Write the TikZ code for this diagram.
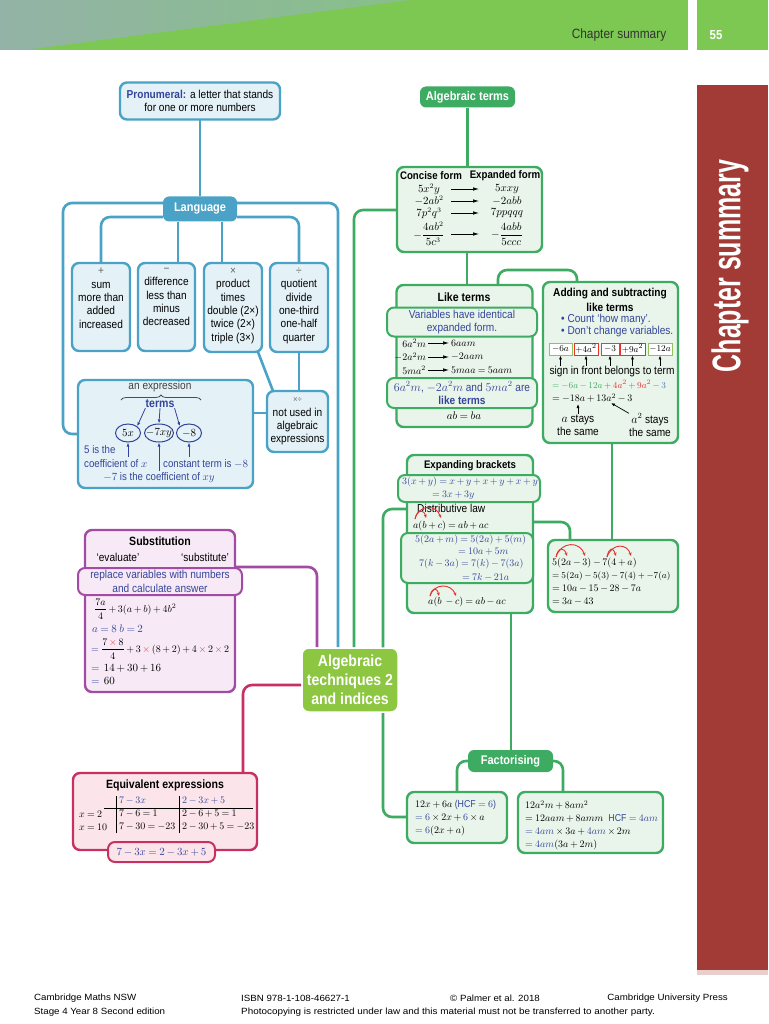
\documentclass[tikz,border=0pt]{standalone}
\usepackage{amsmath}
\usepackage{fontspec}
\setmainfont{Liberation Sans}[FakeStretch=0.88]
\newfontfamily\footfont{Liberation Sans}
\usepackage{graphicx}
\usetikzlibrary{arrows.meta,backgrounds,decorations.pathreplacing,shapes.geometric}

\definecolor{hdgreen}{HTML}{7DC853}
\definecolor{photoa}{HTML}{93B3A6}
\definecolor{photob}{HTML}{88BF8A}
\definecolor{sidered}{HTML}{A23B35}
\definecolor{lblue}{HTML}{4AA2C6}
\definecolor{lfill}{HTML}{E4F2F8}
\definecolor{tblue}{HTML}{34449A}
\definecolor{tgreen}{HTML}{3DAC62}
\definecolor{tfill}{HTML}{E9F5EA}
\definecolor{cgreen}{HTML}{8DC641}
\definecolor{spurple}{HTML}{A24BA2}
\definecolor{sfill}{HTML}{F7EAF6}
\definecolor{ecrimson}{HTML}{C93062}
\definecolor{efill}{HTML}{FBE5EB}
\definecolor{redarc}{HTML}{E5322D}
\definecolor{tgl}{HTML}{8CC45A}
\definecolor{tbl}{HTML}{4A73C3}

\newcommand{\redx}{\mathbin{\textcolor{redarc}{\times}}}

\begin{document}
\medmuskip=3mu
\thickmuskip=4mu
\begin{tikzpicture}[x=1pt,y=-1pt,font=\fontsize{11.5}{13.3}\selectfont,
  box/.style={rounded corners=7pt,line width=2.4pt,inner sep=0pt,outer sep=0pt,align=center},
  bbox/.style={box,draw=lblue,fill=lfill},
  gbox/.style={box,draw=tgreen,fill=tfill},
  pbox/.style={box,draw=spurple,fill=sfill},
  cbox/.style={box,draw=ecrimson,fill=efill},
  tag/.style={rounded corners=6pt,inner sep=0pt,text=white,font=\fontsize{12.5}{14}\selectfont\bfseries},
  bline/.style={draw=lblue,line width=2.6pt,rounded corners=9pt},
  gline/.style={draw=tgreen,line width=2.6pt,rounded corners=9pt},
  pline/.style={draw=spurple,line width=2.6pt,rounded corners=9pt},
  cline/.style={draw=ecrimson,line width=2.6pt,rounded corners=9pt},
  txt/.style={inner sep=0pt,align=center},
  mth/.style={txt,font=\fontsize{10}{12}\selectfont},
  btxt/.style={txt,text=tblue},
  ttl/.style={txt,font=\fontsize{12}{14}\selectfont\bfseries},
  arc/.style={draw=redarc,line width=0.9pt,-{Stealth[length=3.5pt,width=3pt]}},
  lin/.style={line width=0.7pt,-{Latex[length=6pt,width=3.5pt]}},
  barrow/.style={draw=tblue,line width=0.8pt,-{Latex[length=4pt,width=3pt]}},
  tbox/.style={draw=#1,line width=0.9pt,fill=white,inner sep=1pt,minimum height=12pt,font=\fontsize{9.5}{11}\selectfont}
]
\useasboundingbox (0,0) rectangle (768,1024);

% page frame
\fill[hdgreen] (0,0) rectangle (688,50);
\shade[left color=photoa,right color=photob] (0,0) -- (410,0) -- (25,50) -- (0,50) -- cycle;
\fill[hdgreen] (697,0) rectangle (768,50);
\node[txt,text=black!80,font=\fontsize{13.5}{15}\selectfont] (hdtitle) at (619,35) {Chapter summary};
\node[txt,text=white,font=\fontsize{13}{15}\selectfont\bfseries] (hdpage) at (716,35) {55};
\fill[sidered] (697,85) rectangle (768,970);
\fill[sidered!25] (697,970) rectangle (768,975);
\node[txt,text=white,rotate=90,font=\fontsize{40}{40}\selectfont\bfseries] (sidetitle) at (730,266) {\scalebox{0.71}[1]{Chapter summary}};

\begin{scope}[font=\footfont\fontsize{9}{11}\selectfont]
\node[txt,anchor=west] (ft1) at (34,998) {\scalebox{1.08}[1]{Cambridge Maths NSW}};
\node[txt,anchor=west] (ft2) at (34,1012) {\scalebox{1.08}[1]{Stage 4 Year 8 Second edition}};
\node[txt,anchor=west] (ft3) at (241,998) {\scalebox{1.08}[1]{ISBN 978-1-108-46627-1}};
\node[txt,anchor=west] (ft4) at (450,998) {\scalebox{1.08}[1]{© Palmer et al. 2018}};
\node[txt,anchor=east] (ft5) at (728,998) {\scalebox{1.08}[1]{Cambridge University Press}};
\node[txt,anchor=west] (ft6) at (241,1012) {\scalebox{1.1}[1]{Photocopying is restricted under law and this material must not be transferred to another party.}};
\end{scope}

% language
\node[bbox,minimum width=160pt,minimum height=37pt] (pron) at (200,101)
  {\textcolor{tblue}{\bfseries Pronumeral:} a letter that stands\\for one or more numbers};
\node[tag,fill=lblue,minimum width=74pt,minimum height=25pt] (lang) at (200,209) {Language};
\node[bbox,minimum width=58pt,minimum height=88pt] (plus) at (101,307) {};
\node[bbox,minimum width=57pt,minimum height=88pt] (minus) at (166.5,307) {};
\node[bbox,minimum width=58pt,minimum height=89pt] (times) at (233,307.5) {};
\node[bbox,minimum width=58pt,minimum height=89pt] (divide) at (299,307.5) {};
\node[txt,anchor=north] (plust) at (101,268) {{\color{black!60}+}\\sum\\more than\\added\\increased};
\node[txt,anchor=north] (minust) at (166.5,268) {{\color{black!60}−}\\difference\\less than\\minus\\decreased};
\node[txt,anchor=north] (timest) at (233,268) {{\color{black!60}×}\\product\\times\\double (2×)\\twice (2×)\\triple (3×)};
\node[txt,anchor=north] (dividet) at (299,268) {{\color{black!60}÷}\\quotient\\divide\\one-third\\one-half\\quarter};
\node[bbox,minimum width=61pt,minimum height=61pt] (nu) at (297.5,421.5)
  {{\color{black!55}\fontsize{9}{11}\selectfont×÷}\\not used in\\algebraic\\expressions};

\node[bbox,minimum width=175pt,minimum height=108pt] (tb) at (165.5,434) {};
\node[txt,text=black!75] (expr) at (160,387) {an expression};
\draw[decorate,decoration={brace,amplitude=5pt},line width=0.8pt,black!70] (121,400) -- (201,400);
\node[txt,text=tblue,font=\fontsize{12}{14}\selectfont\bfseries] (tm) at (160,404) {terms};
\node[ellipse,draw=tblue,line width=1pt,inner xsep=-6pt,inner ysep=0pt,minimum width=25pt,minimum height=18pt,font=\fontsize{10.5}{12}\selectfont] (e1) at (128,433) {$5x$};
\node[ellipse,draw=tblue,line width=1pt,inner xsep=-6pt,inner ysep=0pt,minimum width=29pt,minimum height=18pt,font=\fontsize{10.5}{12}\selectfont] (e2) at (159,433) {$-7xy$};
\node[ellipse,draw=tblue,line width=1pt,inner xsep=-6pt,inner ysep=0pt,minimum width=25pt,minimum height=18pt,font=\fontsize{10.5}{12}\selectfont] (e3) at (189,433) {$-8$};
\draw[barrow] (tm.south west) -- (e1.north east);
\draw[barrow] (tm.south) -- (e2.north);
\draw[barrow] (tm.south east) -- (e3.north west);
\begin{scope}[font=\fontsize{11}{13}\selectfont]
\node[btxt,anchor=west] (co1) at (84,450) {5 is the};
\node[btxt,anchor=west] (co2) at (84,464) {coefficient of $x$};
\node[btxt,anchor=west] (co3) at (163,464) {constant term is $-8$};
\node[btxt] (co4) at (159,478) {$-7$ is the coefficient of $xy$};
\end{scope}
\coordinate (q1) at (128,457);
\coordinate (q2) at (159,471);
\coordinate (q3) at (189,457);
\draw[barrow] (q1) -- (e1.south);
\draw[barrow] (q2) -- (e2.south);
\draw[barrow] (q3) -- (e3.south);

% substitution
\node[pbox,minimum width=150pt,minimum height=162pt] (sub) at (160,611) {};
\node[ttl] (subt) at (160,541) {Substitution};
\node[txt] (eval) at (118,557) {‘evaluate’};
\node[txt] (subs) at (205,557) {‘substitute’};
\node[pbox,line width=2pt,minimum width=164pt,minimum height=27pt,text=tblue] (rep) at (160,581.5)
  {replace variables with numbers\\and calculate answer};
\node[mth,anchor=west] (s1) at (94,609) {$\dfrac{7a}{4}+3(a+b)+4b^2$};
\node[mth,anchor=west,text=tblue,font=\fontsize{10.5}{12}\selectfont] (s2) at (92,629) {$a=8\ b=2$};
\node[mth,anchor=west] (s3) at (91,649) {$\color{tblue}=\color{black}\dfrac{7\redx 8}{4}+3\redx(8+2)+4\redx 2\redx 2$};
\node[mth,anchor=west,font=\fontsize{10.5}{12}\selectfont] (s4) at (91,668) {$\color{tblue}=\color{black}\,14+30+16$};
\node[mth,anchor=west,font=\fontsize{10.5}{12}\selectfont] (s5) at (91,681) {$\color{tblue}=\color{black}\,60$};

% equivalent expressions
\node[cbox,minimum width=184pt,minimum height=77pt] (eq) at (165,811.5) {};
\node[ttl] (eqt) at (165,785) {Equivalent expressions};
\node[mth,anchor=west,text=tblue] (h1) at (119,801) {$7-3x$};
\node[mth,anchor=west,text=tblue] (h2) at (182,801) {$2-3x+5$};
\node[mth,anchor=west] (r1a) at (79,814) {$x=2$};
\node[mth,anchor=west] (r1b) at (119,814) {$7-6=1$};
\node[mth,anchor=west] (r1c) at (182,814) {$2-6+5=1$};
\node[mth,anchor=west] (r2a) at (79,827) {$x=10$};
\node[mth,anchor=west] (r2b) at (119,827) {$7-30=-23$};
\node[mth,anchor=west] (r2c) at (182,827) {$2-30+5=-23$};
\draw[line width=0.8pt] (116,796) -- (116,833);
\draw[line width=0.8pt] (179,796) -- (179,833);
\draw[line width=0.8pt] (104,808) -- (253,808);
\node[cbox,line width=2pt,minimum width=107pt,minimum height=20pt,text=tblue,font=\fontsize{10.5}{12}\selectfont] (eqb) at (161.5,852) {$7-3x=2-3x+5$};

% centre
\node[rounded corners=7pt,fill=cgreen,draw=white,line width=1.5pt,minimum width=96pt,minimum height=64pt,
  text=white,align=center,font=\fontsize{16}{19}\selectfont\bfseries] (cen) at (350,680) {Algebraic\\techniques 2\\and indices};

% algebraic terms
\node[tag,fill=tgreen,minimum width=95pt,minimum height=21pt] (alg) at (467.5,97) {Algebraic terms};
\node[gbox,minimum width=145pt,minimum height=85pt] (cf) at (469.5,209.5) {};
\node[ttl,font=\fontsize{11}{13}\selectfont\bfseries] (cfh1) at (431,176) {Concise form};
\node[ttl,font=\fontsize{11}{13}\selectfont\bfseries] (cfh2) at (505,176) {Expanded form};
\node[mth,font=\fontsize{10.5}{12}\selectfont] (c1l) at (429,189) {$5x^2y$};
\node[mth,font=\fontsize{10.5}{12}\selectfont] (c1r) at (507,189) {$5xxy$};
\node[mth,font=\fontsize{10.5}{12}\selectfont] (c2l) at (429,201) {$-2ab^2$};
\node[mth,font=\fontsize{10.5}{12}\selectfont] (c2r) at (507,201) {$-2abb$};
\node[mth,font=\fontsize{10.5}{12}\selectfont] (c3l) at (429,213) {$7p^2q^3$};
\node[mth,font=\fontsize{10.5}{12}\selectfont] (c3r) at (507,213) {$7ppqqq$};
\node[mth,font=\fontsize{10.5}{12}\selectfont] (c4l) at (429,234) {$-\dfrac{4ab^2}{5c^3}$};
\node[mth,font=\fontsize{10.5}{12}\selectfont] (c4r) at (507,234) {$-\dfrac{4abb}{5ccc}$};
\coordinate (ca) at (451,0);
\coordinate (cb) at (479,0);
\foreach \r in {c1l,c2l,c3l,c4l}
  \draw[lin] (\r.center -| ca) -- (\r.center -| cb);

% like terms
\node[gbox,minimum width=136pt,minimum height=142pt] (lt) at (464.5,356) {};
\node[ttl] (ltt) at (464,297) {Like terms};
\node[gbox,line width=2pt,minimum width=150pt,minimum height=29pt,text=tblue] (ltv) at (462,322) {Variables have identical\\expanded form.};
\node[mth,anchor=east] (l1l) at (426,343) {$6a^2m$};
\node[mth,anchor=west] (l1r) at (451,343) {$6aam$};
\node[mth,anchor=east] (l2l) at (426,357) {$-2a^2m$};
\node[mth,anchor=west] (l2r) at (451,357) {$-2aam$};
\node[mth,anchor=east] (l3l) at (426,370) {$5ma^2$};
\node[mth,anchor=west] (l3r) at (451,370) {$5maa=5aam$};
\foreach \r in {1,2,3}
  \draw[lin,shorten <=2pt,shorten >=2pt] (l\r l.east) -- (l\r l.east -| l\r r.west);
\node[gbox,line width=2pt,minimum width=150pt,minimum height=30pt,text=tblue] (ltl) at (462,393)
  {$6a^2m$, $-2a^2m$ and $5ma^2$ are\\\textbf{like terms}};
\node[mth,font=\fontsize{10.5}{12}\selectfont] (ltab) at (464,416) {$ab=ba$};

% adding and subtracting
\node[gbox,minimum width=135pt,minimum height=161pt] (as) at (610.5,362.5) {};
\node[ttl,font=\fontsize{11.5}{15}\selectfont\bfseries] (ast) at (610,300) {Adding and subtracting\\like terms};
\node[btxt,anchor=west] (ab1) at (561,320) {• Count ‘how many’.};
\node[btxt,anchor=west] (ab2) at (561,332) {• Don’t change variables.};
\node[tbox=tgl,minimum width=23pt] (tb1) at (560.5,349) {$-6a$};
\node[tbox=redarc,minimum width=24pt] (tb2) at (586,349) {$+4a^2$};
\node[tbox=tbl,minimum width=18pt] (tb3) at (610,349) {$-3$};
\node[tbox=redarc,minimum width=25pt] (tb4) at (632.5,349) {$+9a^2$};
\node[tbox=tgl,minimum width=24pt] (tb5) at (660,349) {$-12a$};
\node[txt] (sgn) at (612,372) {sign in front belongs to term};
\foreach \t in {tb1,tb2,tb3,tb4,tb5}
  \draw[line width=0.7pt,-{Latex[length=4pt,width=3pt]}] (\t.south |- sgn.north) -- (\t.south);
\node[mth,anchor=west,font=\fontsize{9.5}{12}\selectfont] (as1) at (552,385) {$\color{tgreen}=-6a-12a\color{redarc}+4a^2+9a^2\color{tbl}-3$};
\node[mth,anchor=west] (as2) at (552,398) {$=-18a+13a^2-3$};
\node[txt] (as3) at (578,425) {$a$ stays\\the same};
\node[txt] (as4) at (650,425) {$a^2$ stays\\the same};
\coordinate (aa) at (578,404);
\coordinate (asq) at (611,403);
\draw[line width=0.7pt,-{Latex[length=4pt,width=3pt]}] (as3.north) -- (aa);
\draw[line width=0.7pt,-{Latex[length=4pt,width=3pt]}] (as4.north west) -- (asq);

% expanding brackets
\node[gbox,minimum width=126pt,minimum height=158pt] (eb) at (470,534) {};
\node[ttl,font=\fontsize{11}{13}\selectfont\bfseries] (ebt) at (470,466) {Expanding brackets};
\node[gbox,line width=2pt,minimum width=142pt,minimum height=27pt] (eba) at (469,488.5) {};
\node[mth,text=tblue,font=\fontsize{9.7}{12}\selectfont] (eba1) at (470,482) {$3(x+y)=x+y+x+y+x+y$};
\node[mth,text=tblue,anchor=west] (eba2) at (432,495) {$=3x+3y$};
\node[txt,anchor=west] (dl) at (417,508) {Distributive law};
\node[mth,anchor=west] (dl2) at (413,526) {$a(b+c)=ab+ac$};
\draw[arc] (415,519) .. controls (417,509) and (424,509) .. (426,518);
\draw[arc] (415,519) .. controls (419,504) and (436,504) .. (441,518);
\node[gbox,line width=2pt,minimum width=132pt,minimum height=50pt] (ebb) at (467,558) {};
\node[mth,text=tblue,anchor=west] (b1) at (415,540) {$5(2a+m)=5(2a)+5(m)$};
\node[mth,text=tblue,anchor=west] (b2) at (458,552) {$=10a+5m$};
\node[mth,text=tblue,anchor=west] (b3) at (419,564) {$7(k-3a)=7(k)-7(3a)$};
\node[mth,text=tblue,anchor=west] (b4) at (462,577) {$=7k-21a$};
\node[mth] (dl3) at (467,602) {$a(b\;-c)=ab-ac$};
\draw[arc] (430,596) .. controls (432,587) and (437,587) .. (439,596);
\draw[arc] (430,596) .. controls (434,583) and (451,583) .. (456,596);

\node[gbox,minimum width=130pt,minimum height=72pt] (ex2) at (613,576) {};
\node[mth,anchor=west] (x1) at (552,563) {$5(2a-3)-7(4+a)$};
\draw[arc] (556,557) .. controls (558,547) and (564,547) .. (567,556);
\draw[arc] (556,557) .. controls (561,541) and (580,541) .. (585,556);
\draw[arc] (607,557) .. controls (609,547) and (613,547) .. (616,556);
\draw[arc] (607,557) .. controls (612,543) and (627,543) .. (631,556);
\node[mth,anchor=west,font=\fontsize{9.5}{12}\selectfont] (x2) at (552,576) {$=5(2a)-5(3)-7(4)+-7(a)$};
\node[mth,anchor=west] (x3) at (552,589) {$=10a-15-28-7a$};
\node[mth,anchor=west] (x4) at (552,602) {$=3a-43$};

% factorising
\node[tag,fill=tgreen,minimum width=85pt,minimum height=22pt] (fac) at (510.5,761) {Factorising};
\node[gbox,minimum width=100pt,minimum height=51pt] (fa) at (457,817.5) {};
\node[mth,anchor=west] (fa1) at (415,805) {$12x+6a$\ \textcolor{tblue}{(HCF $=6$)}};
\node[mth,anchor=west] (fa2) at (415,818) {$\color{tblue}=6\color{black}\times2x+\color{tblue}6\color{black}\times a$};
\node[mth,anchor=west] (fa3) at (415,831) {$\color{tblue}=6\color{black}(2x+a)$};
\node[gbox,minimum width=145pt,minimum height=61pt] (fb) at (590.5,822.5) {};
\node[mth,anchor=west] (fb1) at (525,805) {$12a^2m+8am^2$};
\node[mth,anchor=west] (fb2) at (525,818) {$=12aam+8amm$\ \ \textcolor{tblue}{HCF $=4am$}};
\node[mth,anchor=west] (fb3) at (525,832) {$\color{tblue}=4am\color{black}\times3a+\color{tblue}4am\color{black}\times2m$};
\node[mth,anchor=west] (fb4) at (525,845) {$\color{tblue}=4am\color{black}(3a+2m)$};

\begin{scope}[on background layer]
\fill[white] (0,0) rectangle (768,1024);
\draw[bline] (pron) -- (lang);
\coordinate (k1) at (63,434);
\draw[bline] ([yshift=6pt]lang.west) -| (k1) -- (tb.west);
\coordinate (k2) at (338,203);
\draw[bline] ([yshift=6pt]lang.east) -- (k2) -- (cen.north -| k2);
\draw[bline] ([yshift=-8pt]lang.west) -| (plus.north);
\draw[bline] ([yshift=-8pt]lang.east) -| (divide.north);
\coordinate (k3) at (178,0);
\coordinate (k4) at (222,0);
\draw[bline] (lang.south -| k3) -- (minus.north -| k3);
\draw[bline] (lang.south -| k4) -- (times.north -| k4);
\draw[bline] ([xshift=-4pt]times.south east) -- ([xshift=6pt]nu.north west);
\draw[bline] (divide.south) -- (divide.south |- nu.north);
\coordinate (k5) at (0,413);
\draw[bline] (tb.east |- k5) -- (nu.west |- k5);
\coordinate (k6) at (317,567);
\draw[pline] (sub.east |- k6) -- (k6) -- (cen.north -| k6);
\coordinate (k7) at (243,685);
\draw[cline] (cen.west |- k7) -- (k7) -- (eq.north -| k7);
\coordinate (k8) at (354,210);
\draw[gline] (cf.west |- k8) -- (k8) -- (cen.north -| k8);
\draw[gline] (alg.south) -- (alg.south |- cf.north);
\coordinate (k9) at (467,0);
\draw[gline] (cf.south -| k9) -- (lt.north -| k9);
\coordinate (k10) at (498,270);
\coordinate (k11) at (577,270);
\draw[gline] (lt.north -| k10) -- (k10) -- (k11) -- (as.north -| k11);
\coordinate (k12) at (612,0);
\draw[gline] (as.south -| k12) -- (ex2.north -| k12);
\coordinate (k13) at (570,522);
\draw[gline] (eb.east |- k13) -- (k13) -- (ex2.north -| k13);
\coordinate (k14) at (383,509);
\coordinate (k15) at (383,817);
\draw[gline] (eb.west |- k14) -- (k14) -- (k15) -- (fa.west |- k15);
\coordinate (k16) at (511,0);
\draw[gline] (eb.south -| k16) -- (fac.north -| k16);
\draw[gline] (fac.west) -| (fa.north);
\coordinate (k17) at (563,0);
\draw[gline] (fac.east) -| (fb.north -| k17);
\end{scope}
\end{tikzpicture}
\end{document}
